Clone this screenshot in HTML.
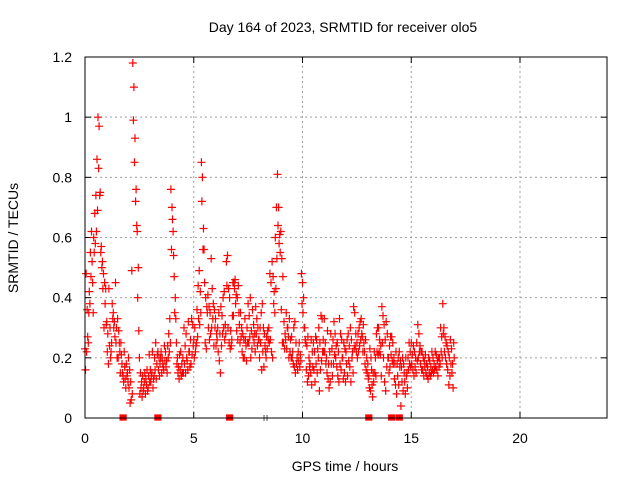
<!DOCTYPE html>
<html><head><meta charset="utf-8"><style>
body{margin:0;background:#fff}
svg text{font-family:"Liberation Sans",sans-serif;font-size:14px;fill:#000}
</style></head><body>
<svg id="chart" width="640" height="480" viewBox="0 0 640 480" xmlns="http://www.w3.org/2000/svg">
<rect width="640" height="480" fill="#fff"/>
<g id="grid"></g>
<g id="ticks"></g>
<g id="marks"></g>
<rect x="85" y="57" width="522" height="361" fill="none" stroke="#000" stroke-width="1"/>
<text x="343" y="32" text-anchor="middle">Day 164 of 2023, SRMTID for receiver olo5</text>
<text x="345" y="471" text-anchor="middle">GPS time / hours</text>
<text x="18" y="238" text-anchor="middle" transform="rotate(-90 18 238)">SRMTID / TECUs</text>
</svg>
<script>
const xTicks=[0,5,10,15,20];
const yTicks=[0,0.2,0.4,0.6,0.8,1,1.2];
const yTickLabels=["0","0.2","0.4","0.6","0.8","1","1.2"];
const tStart=0, tStep=0.05;
const valuesA=[0.23,0.48,0.36,0.25,0.42,0.55,0.62,0.45,0.60,0.68,
0.74,0.86,1.0,0.97,0.75,0.57,0.52,0.48,0.45,0.43,
0.32,0.28,0.43,0.30,0.22,0.38,0.35,0.32,0.45,0.30,
0.33,0.29,0.22,0.25,0.18,0.14,0.22,0.13,0.18,0.15,
0.20,0.16,0.12,0.49,1.18,1.10,0.93,0.76,0.62,0.50,
0.20,0.15,0.12,0.14,0.10,0.15,0.13,0.16,0.10,0.21,
0.16,0.14,0.22,0.13,0.20,0.25,0.18,0.22,0.20,0.18,
0.22,0.20,0.17,0.24,0.22,0.19,0.24,0.28,0.33,0.76,
0.70,0.62,0.47,0.40,0.25,0.20,0.17,0.21,0.22,0.18,
0.20,0.30,0.24,0.28,0.19,0.32,0.22,0.26,0.33,0.31,
0.26,0.30,0.24,0.36,0.44,0.49,0.42,0.85,0.80,0.63,
0.45,0.40,0.37,0.41,0.37,0.35,0.53,0.43,0.38,0.36,
0.33,0.28,0.30,0.35,0.28,0.37,0.34,0.40,0.42,0.31,
0.52,0.54,0.43,0.40,0.29,0.26,0.45,0.45,0.46,0.41,
0.40,0.44,0.31,0.35,0.30,0.28,0.26,0.33,0.24,0.30,
0.38,0.34,0.40,0.29,0.36,0.31,0.28,0.37,0.33,0.30,
0.26,0.30,0.35,0.38,0.30,0.28,0.22,0.27,0.29,0.30,
0.48,0.45,0.52,0.47,0.42,0.60,0.70,0.81,0.70,0.61,
0.62,0.53,0.47,0.32,0.28,0.35,0.30,0.27,0.33,0.26,
0.27,0.22,0.30,0.32,0.25,0.20,0.22,0.25,0.21,0.48,
0.45,0.40,0.30,0.25,0.24,0.27,0.20,0.18,0.26,0.22,
0.25,0.22,0.27,0.26,0.23,0.30,0.25,0.34,0.33,0.26,
0.33,0.25,0.20,0.29,0.18,0.22,0.28,0.23,0.26,0.32,
0.28,0.24,0.25,0.22,0.33,0.28,0.26,0.20,0.25,0.23,
0.22,0.26,0.28,0.24,0.30,0.26,0.22,0.37,0.35,0.28,
0.25,0.28,0.30,0.32,0.33,0.27,0.31,0.22,0.26,0.20,
0.18,0.14,0.23,0.20,0.11,0.15,0.22,0.20,0.28,0.30,
0.30,0.26,0.24,0.37,0.34,0.31,0.26,0.32,0.28,0.20,
0.24,0.27,0.27,0.25,0.20,0.18,0.22,0.18,0.20,0.22,
0.19,0.17,0.20,0.18,0.12,0.20,0.15,0.20,0.25,0.22,
0.25,0.21,0.24,0.22,0.20,0.25,0.31,0.28,0.24,0.22,
0.22,0.20,0.19,0.21,0.18,0.17,0.20,0.19,0.17,0.22,
0.20,0.18,0.22,0.21,0.19,0.20,0.20,0.30,0.27,0.38,
0.30,0.27,0.25,0.24,0.22,0.20,0.26,0.23,0.18,0.25];
const valuesB=[0.16,0.22,0.27,0.35,0.38,0.47,0.52,0.35,0.55,0.58,
0.62,0.69,0.83,0.74,0.55,0.50,0.43,0.30,0.38,0.31,
0.22,0.18,0.24,0.20,0.25,0.33,0.30,0.27,0.25,0.20,
0.20,0.25,0.15,0.21,0.15,0.12,0.17,0.10,0.14,0.12,
0.10,0.05,0.06,0.08,0.99,0.85,0.72,0.64,0.40,0.29,
0.08,0.10,0.07,0.09,0.12,0.08,0.11,0.09,0.14,0.12,
0.12,0.15,0.10,0.14,0.16,0.13,0.21,0.16,0.14,0.20,
0.15,0.18,0.16,0.19,0.17,0.15,0.20,0.22,0.25,0.56,
0.66,0.54,0.35,0.33,0.18,0.15,0.13,0.16,0.14,0.15,
0.15,0.18,0.15,0.20,0.16,0.22,0.17,0.18,0.21,0.24,
0.20,0.22,0.25,0.27,0.33,0.31,0.35,0.72,0.56,0.56,
0.25,0.23,0.35,0.30,0.26,0.28,0.30,0.33,0.24,0.30,
0.24,0.26,0.22,0.19,0.15,0.24,0.28,0.30,0.26,0.28,
0.44,0.30,0.25,0.23,0.24,0.34,0.34,0.43,0.38,0.29,
0.26,0.35,0.25,0.27,0.22,0.20,0.20,0.26,0.19,0.25,
0.25,0.27,0.20,0.23,0.27,0.25,0.22,0.28,0.24,0.26,
0.20,0.25,0.16,0.22,0.17,0.24,0.20,0.23,0.26,0.25,
0.26,0.22,0.20,0.38,0.35,0.43,0.53,0.64,0.58,0.55,
0.36,0.25,0.25,0.23,0.26,0.23,0.30,0.20,0.22,0.20,
0.20,0.18,0.17,0.15,0.18,0.16,0.19,0.17,0.19,0.38,
0.35,0.30,0.26,0.16,0.12,0.14,0.17,0.15,0.11,0.17,
0.16,0.12,0.18,0.15,0.20,0.09,0.16,0.19,0.22,0.22,
0.22,0.18,0.15,0.13,0.10,0.12,0.18,0.14,0.18,0.21,
0.20,0.17,0.14,0.12,0.18,0.16,0.20,0.13,0.15,0.12,
0.18,0.14,0.19,0.17,0.12,0.20,0.15,0.23,0.24,0.22,
0.20,0.22,0.24,0.26,0.28,0.22,0.25,0.18,0.16,0.15,
0.13,0.10,0.09,0.16,0.07,0.12,0.15,0.14,0.22,0.21,
0.22,0.21,0.14,0.25,0.20,0.12,0.09,0.17,0.20,0.15,
0.17,0.21,0.19,0.18,0.13,0.11,0.08,0.14,0.11,0.17,
0.04,0.12,0.09,0.15,0.08,0.14,0.10,0.16,0.18,0.17,
0.18,0.16,0.14,0.17,0.15,0.19,0.20,0.22,0.18,0.16,
0.16,0.14,0.17,0.15,0.14,0.13,0.15,0.14,0.15,0.16,
0.15,0.16,0.17,0.16,0.14,0.17,0.18,0.22,0.20,0.28,
0.22,0.20,0.18,0.16,0.11,0.14,0.18,0.15,0.10,0.20];
const zeroTimes=[1.75,3.35,6.65,13.05,14.1,14.45];
const grayZeroTimes=[8.3];

const NS="http://www.w3.org/2000/svg";
const X0=85,X1=607,Y0=418,Y1=57;
function xs(h){return X0+(h/24)*(X1-X0);}
function ys(v){return Y0-(v/1.2)*(Y0-Y1);}
function mk(tag,attrs,parent){const e=document.createElementNS(NS,tag);for(const k in attrs)e.setAttribute(k,attrs[k]);parent.appendChild(e);return e;}
const grid=document.getElementById('grid'),ticks=document.getElementById('ticks'),marks=document.getElementById('marks');
xTicks.forEach(t=>{
  const x=xs(t);
  if(t>0){const g=mk('line',{x1:x,x2:x,y1:Y0,y2:Y1,stroke:'#a0a0a0','stroke-dasharray':'2,3'},grid);
  
  }
  mk('line',{x1:x,x2:x,y1:Y0,y2:Y0-6,stroke:'#000'},ticks);
  mk('line',{x1:x,x2:x,y1:Y1,y2:Y1+6,stroke:'#000'},ticks);
  const l=mk('text',{x:x,y:443,'text-anchor':'middle'},ticks);l.textContent=String(t);
  
  
});
yTicks.forEach((t,i)=>{
  const y=ys(t);
  if(t>0&&t<1.2){const g=mk('line',{x1:X0,x2:X1,y1:y,y2:y,stroke:'#a0a0a0','stroke-dasharray':'2,3'},grid);
  
  }
  mk('line',{x1:X0,x2:X0+6,y1:y,y2:y,stroke:'#000'},ticks);
  mk('line',{x1:X1,x2:X1-6,y1:y,y2:y,stroke:'#000'},ticks);
  const l=mk('text',{x:72,y:y+5,'text-anchor':'end'},ticks);l.textContent=yTickLabels[i];
  
  
});
let d='';
function plus(h,v){const x=xs(h),y=ys(v);d+=`M${(x-4).toFixed(1)},${y.toFixed(1)}h8M${x.toFixed(1)},${(y-4).toFixed(1)}v8`;}
valuesA.forEach((v,i)=>plus(tStart+i*tStep,v));
valuesB.forEach((v,i)=>plus(tStart+(i+0.5)*tStep,v));
zeroTimes.forEach(h=>{const x=xs(h);d+=`M${(x-3).toFixed(1)},${Y0-3}h6v5h-6z`;});
const p=mk('path',{d:d,stroke:'#ff0000','stroke-width':1.2,fill:'#ff0000'},marks);


grayZeroTimes.forEach(h=>{const x=xs(h);const g=mk('path',{d:`M${x-1.5},${Y0-3}v6M${x+1.5},${Y0-3}v6`,stroke:'#555'},marks);

});
</script>
</body></html>
